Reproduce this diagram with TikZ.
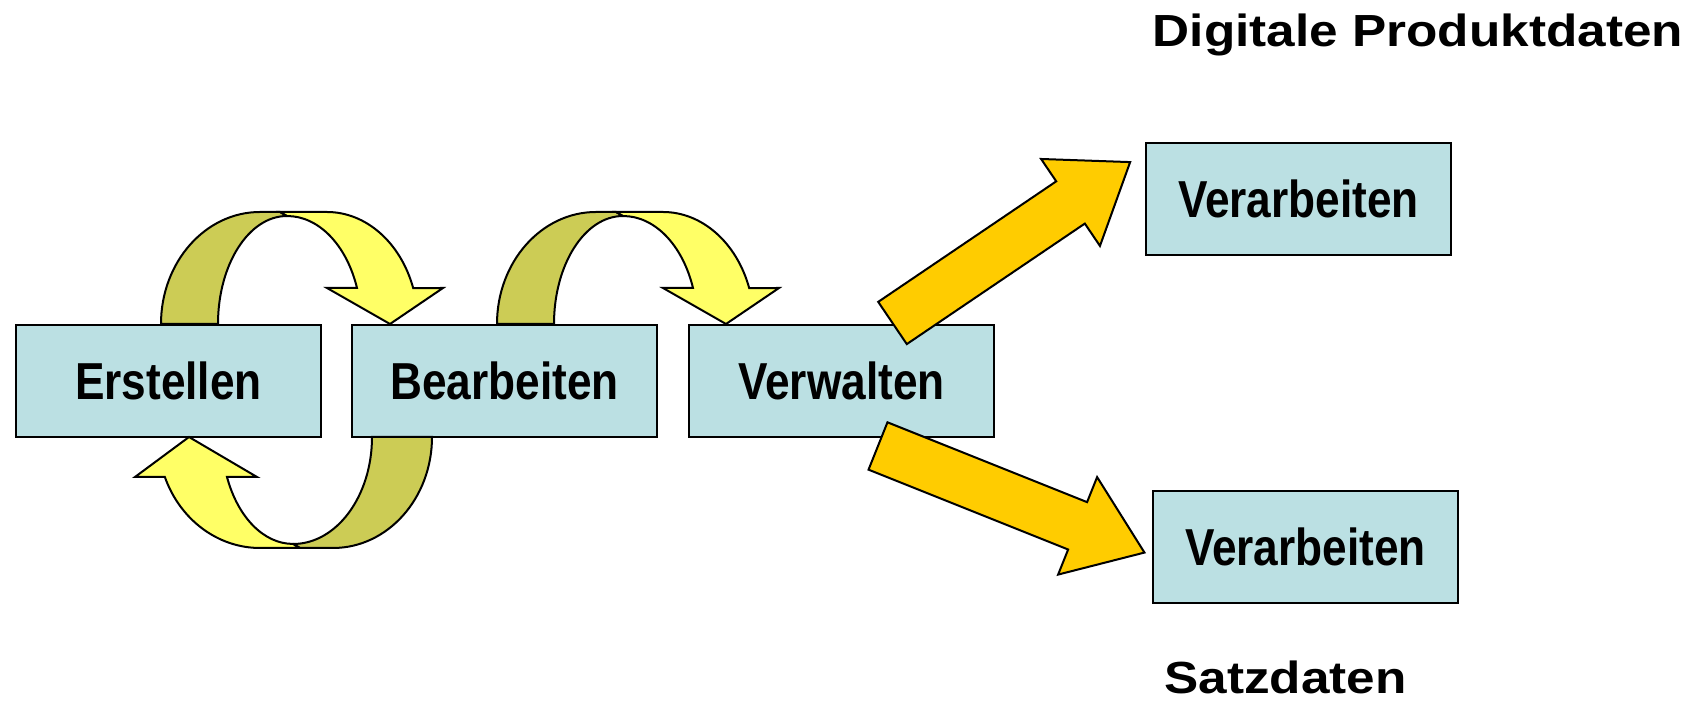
\documentclass[tikz,border=0pt]{standalone}
\usepackage{fontspec}
\newfontfamily\boxfont{Liberation Sans}[FakeStretch=0.85]
\newfontfamily\headfont{Liberation Sans}[FakeStretch=1.14]
\usetikzlibrary{positioning,calc}
\definecolor{boxfill}{RGB}{187,224,227}
\definecolor{loopyellow}{RGB}{255,255,102}
\definecolor{loopdark}{RGB}{204,204,85}
\definecolor{blockorange}{RGB}{255,204,0}

\begin{document}
\begin{tikzpicture}[x=1pt,y=1pt,line width=2pt,
  box/.style={draw,fill=boxfill,minimum width=305pt,minimum height=112pt,inner sep=0pt,
    font=\boxfont\bfseries\fontsize{52}{60}\selectfont},
  head/.style={inner sep=0pt,anchor=base,font=\headfont\bfseries\fontsize{45}{54}\selectfont},
  loopback/.style={draw,fill=loopdark},
  loopfront/.style={draw,fill=loopyellow},
  blockfill/.style={draw,fill=blockorange},
  looparrow/.pic={
    \draw[loopback] (0,0) arc[start angle=180,end angle=90,x radius=99,y radius=112]
      -- (119,112) -- (126,108) arc[start angle=90,end angle=180,x radius=69,y radius=108] -- cycle;
    \draw[loopfront] (119,112) -- (166,112) arc[start angle=90,end angle=18.7,x radius=91,y radius=112]
      -- (282,36) -- (229,0) -- (166,36) -- (196,36)
      arc[start angle=19.5,end angle=90,x radius=74,y radius=108] -- cycle;
  },
  loopunder/.pic={
    \draw[loopback] (0,0) arc[start angle=0,end angle=-90,x radius=99,y radius=111]
      -- (-132,-111) -- (-139,-107) arc[start angle=270,end angle=360,x radius=79,y radius=107] -- cycle;
    \draw[loopfront] (-132,-111) -- (-172,-111) arc[start angle=270,end angle=201.1,x radius=102,y radius=111]
      -- (-297,-40) -- (-243,0) -- (-175,-40) -- (-205,-40)
      arc[start angle=202,end angle=270,x radius=71,y radius=107] -- cycle;
  },
  blockarrow/.pic={
    \draw[blockfill] (0,-25.5) -- (215,-25.5) -- (215,-52.5) -- (287,0)
      -- (215,52.5) -- (215,25.5) -- (0,25.5) -- cycle;
  }]

\useasboundingbox (0,0) rectangle (1695,703);

% process boxes
\node[box] (erst) at (168.5,322) {Erstellen};
\node[box,right=29pt of erst] (bearb) {Bearbeiten};
\node[box,right=30pt of bearb] (verw) {Verwalten};
\node[box] (verarbA) at (1298.5,504) {Verarbeiten};
\node[box] (verarbB) at (1305.5,156) {Verarbeiten};

% headings
\node[head] (digi) at (1418,656) {Digitale Produktdaten};
\node[head] (satz) at (1285.5,9) {Satzdaten};

% loops
\pic at ($(erst.north west)+(146,0)$) {looparrow};
\pic at ($(bearb.north west)+(146,0)$) {looparrow};
\pic at ($(bearb.south west)+(81,1)$) {loopunder};

% output arrows
\pic[rotate=34.1] at ($(verw.north)+(51,1)$) {blockarrow};
\pic[rotate=-21.8] at ($(verw.south)+(36.5,-8)$) {blockarrow};
\end{tikzpicture}
\end{document}
